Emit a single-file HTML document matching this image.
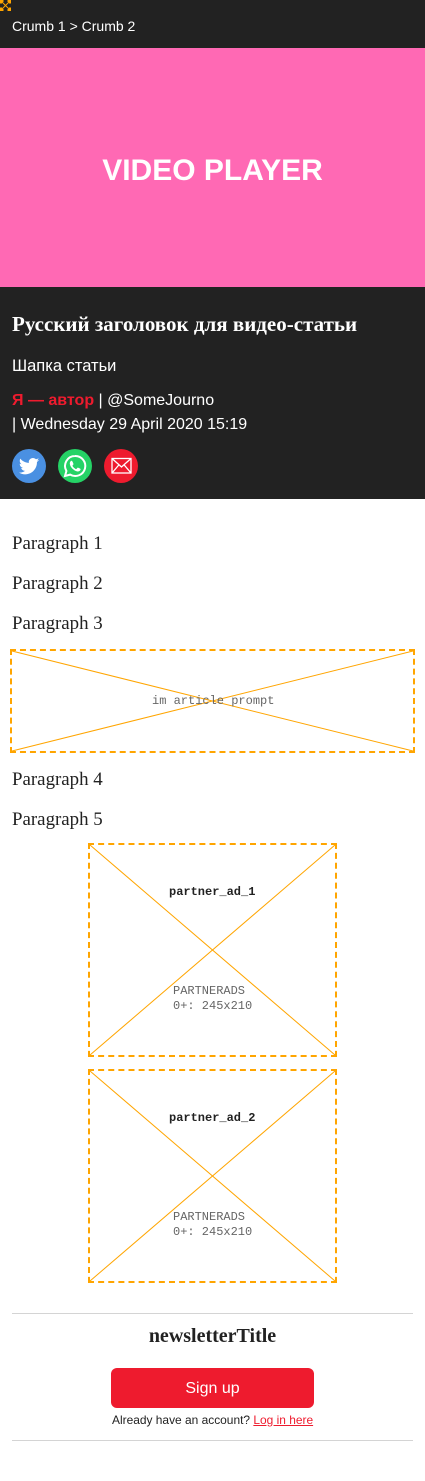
<!DOCTYPE html>
<html lang="ru">
<head>
<meta charset="utf-8">
<title>Article</title>
<style>
html,body{margin:0;padding:0;background:#fff;}
body{position:relative;width:425px;height:1481px;overflow:hidden;font-family:"Liberation Sans","Noto Sans CJK SC",sans-serif;color:#222;}
.a{position:absolute;white-space:nowrap;}
.p{left:12px;font:18.9px/24px "Liberation Serif","Noto Serif CJK SC",serif;color:#222;}
.ph{position:absolute;display:block;overflow:visible;}
.ph line{stroke:orange;}
.ph .x{stroke-width:1;}
.ph .e{stroke-width:2;}
.m{font:12px/15px "Liberation Mono",monospace;color:#666;}
.rule{position:absolute;left:12px;width:401px;height:1px;background:#d4d4d4;}
.ic{position:absolute;top:449px;width:34px;height:34px;border-radius:50%;}
.ic svg{position:absolute;left:0;top:0;width:34px;height:34px;}
</style>
</head>
<body>
<div class="a" style="left:0;top:0;width:425px;height:499px;background:#222;"></div>
<svg class="ph" style="left:0;top:0;" width="11" height="11" viewBox="0 0 11 11">
<g class="e" stroke-dasharray="3.5 4"><line x1="0" y1="1" x2="11" y2="1"/><line x1="0" y1="10" x2="11" y2="10"/><line x1="1" y1="0" x2="1" y2="11"/><line x1="10" y1="0" x2="10" y2="11"/></g>
<line class="x" x1="2" y1="2" x2="9" y2="9"/><line class="x" x1="9" y1="2" x2="2" y2="9"/></svg>
<div class="a" style="left:12px;top:17px;font-size:14px;line-height:18px;color:#fff;">Crumb 1 &gt; Crumb 2</div>
<div class="a" style="left:0;top:48px;width:425px;height:239px;background:#ff69b4;color:#fff;font-weight:bold;font-size:30px;line-height:245px;text-align:center;">VIDEO PLAYER</div>
<div class="a" style="left:12px;top:312px;font:bold 21px/24px 'Liberation Serif','Noto Serif CJK SC',serif;color:#fff;">Русский заголовок для видео-статьи</div>
<div class="a" style="left:12px;top:356px;font-size:16.5px;line-height:20px;color:#fff;">Шапка статьи</div>
<div class="a" style="left:12px;top:389px;font-size:16px;line-height:24px;color:#fff;"><a style="color:#ee1b2e;font-weight:bold;">Я — автор</a> | @SomeJourno<br><span>| Wednesday 29 April 2020 15:19</span></div>
<div class="ic" style="left:12px;background:#4a90e2;"><svg viewBox="0 0 34 34"><path transform="translate(1.4 1.4) scale(.92)" fill="#fff" d="M28 10.3c-.8.4-1.7.6-2.6.7.9-.6 1.6-1.4 2-2.5-.9.5-1.8.9-2.9 1.1-.8-.9-2-1.4-3.3-1.4-2.5 0-4.5 2-4.5 4.5 0 .4 0 .7.1 1-3.8-.2-7.1-2-9.3-4.7-.4.7-.6 1.4-.6 2.3 0 1.6.8 3 2 3.8-.7 0-1.4-.2-2-.6v.1c0 2.2 1.6 4 3.6 4.4-.4.1-.8.2-1.2.2-.3 0-.6 0-.9-.1.6 1.8 2.3 3.1 4.2 3.1-1.5 1.2-3.5 1.9-5.6 1.9-.4 0-.7 0-1.1-.1 2 1.3 4.4 2 6.9 2 8.3 0 12.8-6.9 12.8-12.8v-.6c.9-.6 1.7-1.4 2.3-2.3z"/></svg></div>
<div class="ic" style="left:58px;background:#25d366;"><svg viewBox="0 0 34 34"><path fill="none" stroke="#fff" stroke-width="2" d="M17 7a10 10 0 0 0-8.600 15L7 27l5.200-1.400A10 10 0 1 0 17 7z"/><path fill="#fff" d="M13.500 11.700c-.5 0-1.700 1-1.700 2.800 0 3 3.900 7.500 7.800 8 1.800.2 3-1.200 3-2.200 0-.5-2.500-1.800-3-1.600-.4.200-1 1.300-1.400 1.300-1 0-3.500-2.200-3.700-3.300 0-.4.900-1 1-1.500 0-.4-1-3.500-2-3.500z"/></svg></div>
<div class="ic" style="left:104px;background:#ee1b2e;"><svg viewBox="0 0 34 34"><g fill="none" stroke="#fff" stroke-width="1.300"><rect x="8" y="9.500" width="19" height="14.500"/><path d="M8 9.500l9.500 8.500L27 9.500M8 24l7.200-8.500M27 24l-7.200-8.500"/></g></svg></div>
<div class="a p" style="top:532px;">Paragraph 1</div>
<div class="a p" style="top:572px;">Paragraph 2</div>
<div class="a p" style="top:612px;">Paragraph 3</div>
<svg class="ph" style="left:10px;top:649px;" width="405" height="104" viewBox="0 0 405 104">
<g class="e"><line stroke-dasharray="6 3.975" x1="0" y1="1" x2="405" y2="1"/><line stroke-dasharray="6 3.975" x1="0" y1="103" x2="405" y2="103"/><line stroke-dasharray="6 3.8" x1="1" y1="0" x2="1" y2="104"/><line stroke-dasharray="6 3.8" x1="404" y1="0" x2="404" y2="104"/></g>
<line class="x" x1="2" y1="2" x2="403" y2="102"/><line class="x" x1="403" y1="2" x2="2" y2="102"/></svg>
<div class="a m" style="left:152px;top:694px;">im article prompt</div>
<div class="a p" style="top:768px;">Paragraph 4</div>
<div class="a p" style="top:808px;">Paragraph 5</div>
<svg class="ph" style="left:88px;top:843px;" width="249" height="214" viewBox="0 0 249 214">
<g class="e"><line stroke-dasharray="6 4.125" x1="0" y1="1" x2="249" y2="1"/><line stroke-dasharray="6 4.125" x1="0" y1="213" x2="249" y2="213"/><line stroke-dasharray="6 3.9" x1="1" y1="0" x2="1" y2="214"/><line stroke-dasharray="6 3.9" x1="248" y1="0" x2="248" y2="214"/></g>
<line class="x" x1="2" y1="2" x2="247" y2="212"/><line class="x" x1="247" y1="2" x2="2" y2="212"/></svg>
<div class="a m" style="left:169px;top:885px;font-weight:bold;color:#222;">partner_ad_1</div>
<div class="a m" style="left:173px;top:984px;">PARTNERADS<br>0+: 245x210</div>
<svg class="ph" style="left:88px;top:1069px;" width="249" height="214" viewBox="0 0 249 214">
<g class="e"><line stroke-dasharray="6 4.125" x1="0" y1="1" x2="249" y2="1"/><line stroke-dasharray="6 4.125" x1="0" y1="213" x2="249" y2="213"/><line stroke-dasharray="6 3.9" x1="1" y1="0" x2="1" y2="214"/><line stroke-dasharray="6 3.9" x1="248" y1="0" x2="248" y2="214"/></g>
<line class="x" x1="2" y1="2" x2="247" y2="212"/><line class="x" x1="247" y1="2" x2="2" y2="212"/></svg>
<div class="a m" style="left:169px;top:1111px;font-weight:bold;color:#222;">partner_ad_2</div>
<div class="a m" style="left:173px;top:1210px;">PARTNERADS<br>0+: 245x210</div>
<div class="rule" style="top:1313px;"></div>
<div class="a" style="left:0;width:425px;top:1324px;text-align:center;font:bold 20px/24px 'Liberation Serif',serif;color:#222;">newsletterTitle</div>
<div class="a" style="left:111px;top:1368px;width:203px;height:40px;background:#ee1b2e;border-radius:6px;color:#fff;font-size:16px;line-height:41px;text-align:center;">Sign up</div>
<div class="a" style="left:112px;top:1413px;font-size:11.95px;line-height:14px;color:#222;">Already have an account? <a style="color:#ee1b2e;text-decoration:underline;">Log in here</a></div>
<div class="rule" style="top:1440px;"></div>
</body>
</html>
